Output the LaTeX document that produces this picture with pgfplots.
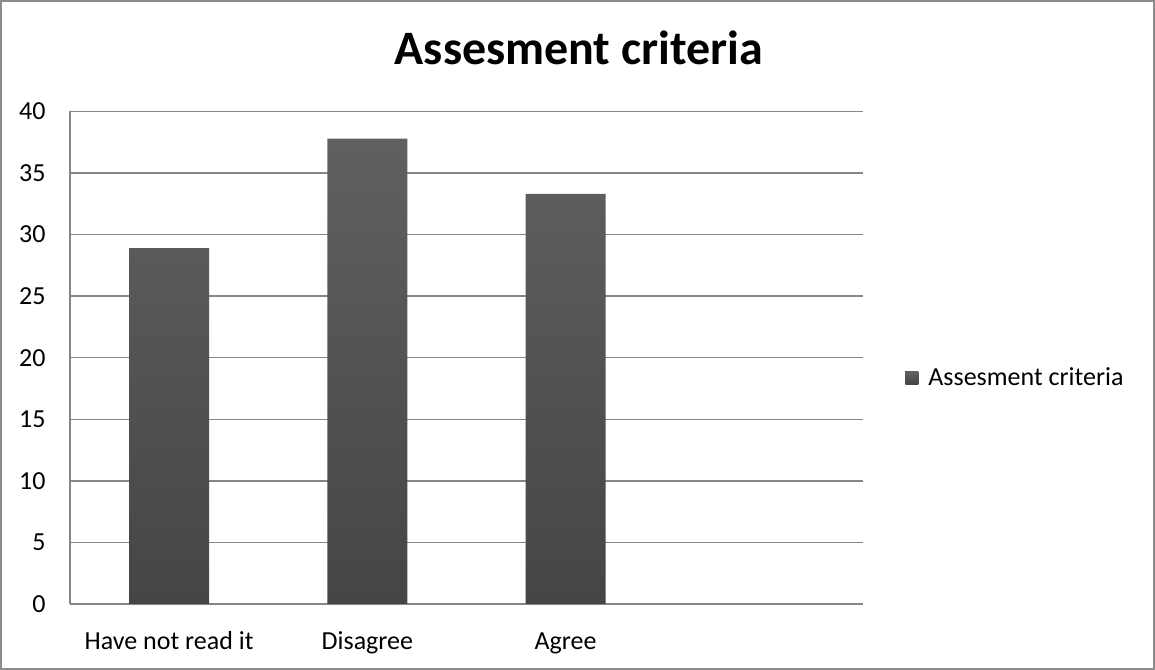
\documentclass[border=0pt]{standalone}
\usepackage{fontspec}
\setmainfont{Carlito}
\usepackage{pgfplots}
\pgfplotsset{compat=1.18}
\definecolor{gridgray}{HTML}{868686}
\definecolor{bartop}{HTML}{606060}
\definecolor{barbottom}{HTML}{454545}
\definecolor{framegray}{HTML}{8C8C8C}

\begin{document}
\begin{tikzpicture}
\begin{axis}[
  name=ax,
  scale only axis,
  width=396.5pt, height=246.25pt,
  xmin=-0.5, xmax=3.5,
  ymin=0, ymax=40,
  ytick={0,5,...,40},
  xtick={0,1,2},
  xticklabels={Have not read it, Disagree, Agree},
  axis x line*=bottom, axis y line*=left,
  axis line style={gridgray, line width=0.75pt},
  ymajorgrids,
  grid style={gridgray, line width=0.75pt},
  major tick length=0pt,
  tick label style={font=\fontsize{13}{15}\selectfont, /pgf/number format/assume math mode=true},
  yticklabel style={inner sep=0pt, xshift=-12pt},
  xticklabel style={inner sep=0pt, anchor=base, yshift=-23pt},
  ybar, bar width=40pt,
  legend style={draw=none, fill=none, at={(1,0.459)}, anchor=west, xshift=21pt,
    font=\fontsize{13}{15}\selectfont, inner sep=0pt},
  legend cell align=left,
  legend image code/.code={%
    \fill[top color=bartop, bottom color=barbottom] (0pt,-3.25pt) rectangle (6.5pt,3.25pt);
    \path (9.5pt,0pt);},
]
\addplot[draw=none, top color=bartop, bottom color=barbottom, bar shift=0pt]
  coordinates {(0,28.9) (1,37.8) (2,33.3)};
\addlegendentry{Assesment criteria}
\end{axis}
% chart title
\node[anchor=base, font=\fontsize{24}{28}\selectfont\bfseries]
  at ([xshift=254.5pt, yshift=23.25pt]ax.north west) {Assesment criteria};
% outer frame of the chart
\draw[framegray, line width=1pt]
  ([xshift=-34.5pt, yshift=-32.5pt]ax.south west) rectangle
  ([xshift=145.5pt, yshift=55.25pt]ax.north east);
\end{tikzpicture}
\end{document}
